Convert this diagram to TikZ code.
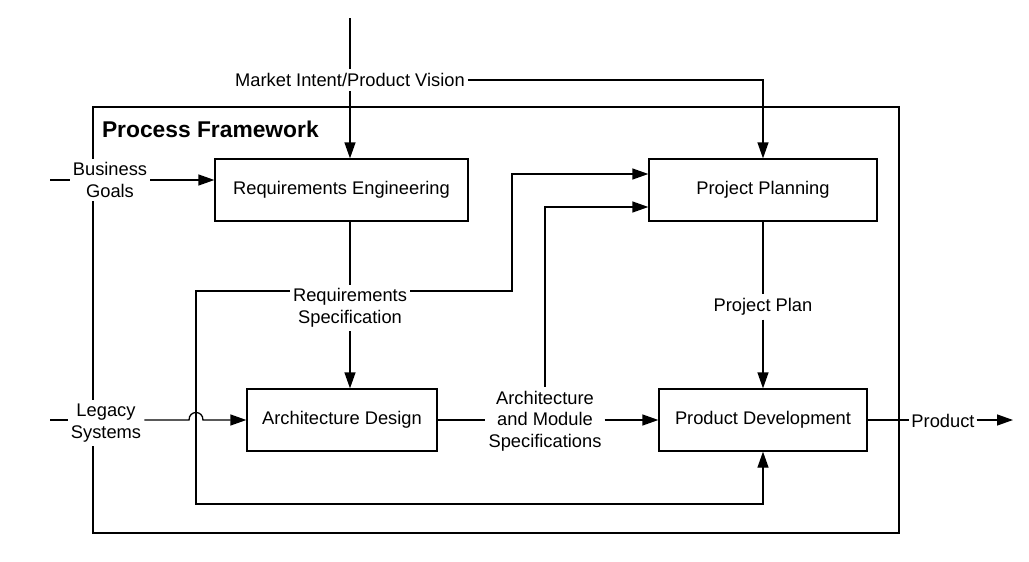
\documentclass[tikz,border=0pt]{standalone}
\usepackage{fontspec}
\setmainfont{Liberation Sans}
\usetikzlibrary{arrows.meta,calc}
\begin{document}
\begin{tikzpicture}[x=1pt,y=-1pt,
  every node/.style={font=\fontsize{18.3}{21.5}\selectfont,text=black},
  box/.style={draw,line width=1.3pt,fill=white,minimum height=62pt,inner sep=0pt},
  lbl/.style={fill=white,align=center,inner xsep=3pt,inner ysep=4pt},
  conn/.style={line width=1.3pt},
  arr/.style={conn,-{Triangle[length=16pt,width=11pt]}}]
\fill[white] (0,0) rectangle (1029,562);
\useasboundingbox (0,0) rectangle (1029,562);
% frame
\node[draw,line width=1.3pt,minimum width=806pt,minimum height=426pt,inner sep=0pt] (frame) at (496,320) {};
\node[anchor=west,font=\fontsize{22.8}{26}\selectfont\bfseries] (pf) at (98.5,129) {Process Framework};
% boxes
\node[box,minimum width=253pt] (re) at (341.5,190) {Requirements Engineering};
\node[box,minimum width=228pt] (pp) at (763,190) {Project Planning};
\node[box,minimum width=190pt] (ad) at (342,420) {Architecture Design};
\node[box,minimum width=208pt] (pd) at (763,420) {Product Development};
% labels
\node[lbl] (mi) at (350,80) {Market Intent/Product Vision};
\node[lbl] (bg) at (110,180) {Business\\Goals};
\node[lbl] (ls) at (106,423) {Legacy\\Systems};
\node[lbl] (rs) at (350,308) {Requirements\\Specification};
\node[lbl] (as) at (545,421) {Architecture\\and Module\\Specifications};
\node[lbl] (pl) at (763,307) {Project Plan};
\node[lbl,inner xsep=2pt] (prod) at (943,421) {Product};
% coordinates
\coordinate (mtop) at (350,18);
\coordinate (bgs) at (50,180);
\coordinate (lss) at (50,420);
\coordinate (fbl) at (196,291);
\coordinate (fbb) at (196,504);
\coordinate (j1) at (512,291);
\coordinate (pend) at (1013,420);
% connectors
\draw[conn] (mtop) -- (mi.north);
\draw[arr] (mi.south) -- (mi.south |- re.north);
\draw[arr] (mi.east) -| (pp.north);
\draw[conn] (bgs) -- (bg.west);
\draw[arr] (bg.east) -- (bg.east -| re.west);
\draw[conn] (lss) -- (ls.west |- lss);
\draw[arr] (ls.east |- lss) -- (189,420) .. controls (189,410) and (203,410) .. (203,420) -- (ad.west);
\draw[conn] (rs.north |- re.south) -- (rs.north);
\draw[arr] (rs.south) -- (rs.south |- ad.north);
\draw[arr] (rs.west |- fbl) -- (fbl) -- (fbb) -| (pd.south);
\draw[arr] (rs.east |- fbl) -- (j1) |- ($(pp.west)+(0,-16)$);
\draw[conn] (ad.east) -- (as.west |- ad.east);
\draw[arr] (as.east |- pd.west) -- (pd.west);
\draw[arr] (as.north) |- ($(pp.west)+(0,17)$);
\draw[conn] (pp.south) -- (pl.north);
\draw[arr] (pl.south) -- (pd.north);
\draw[conn] (pd.east) -- (prod.west |- pd.east);
\draw[arr] (prod.east |- pend) -- (pend);
\end{tikzpicture}
\end{document}
